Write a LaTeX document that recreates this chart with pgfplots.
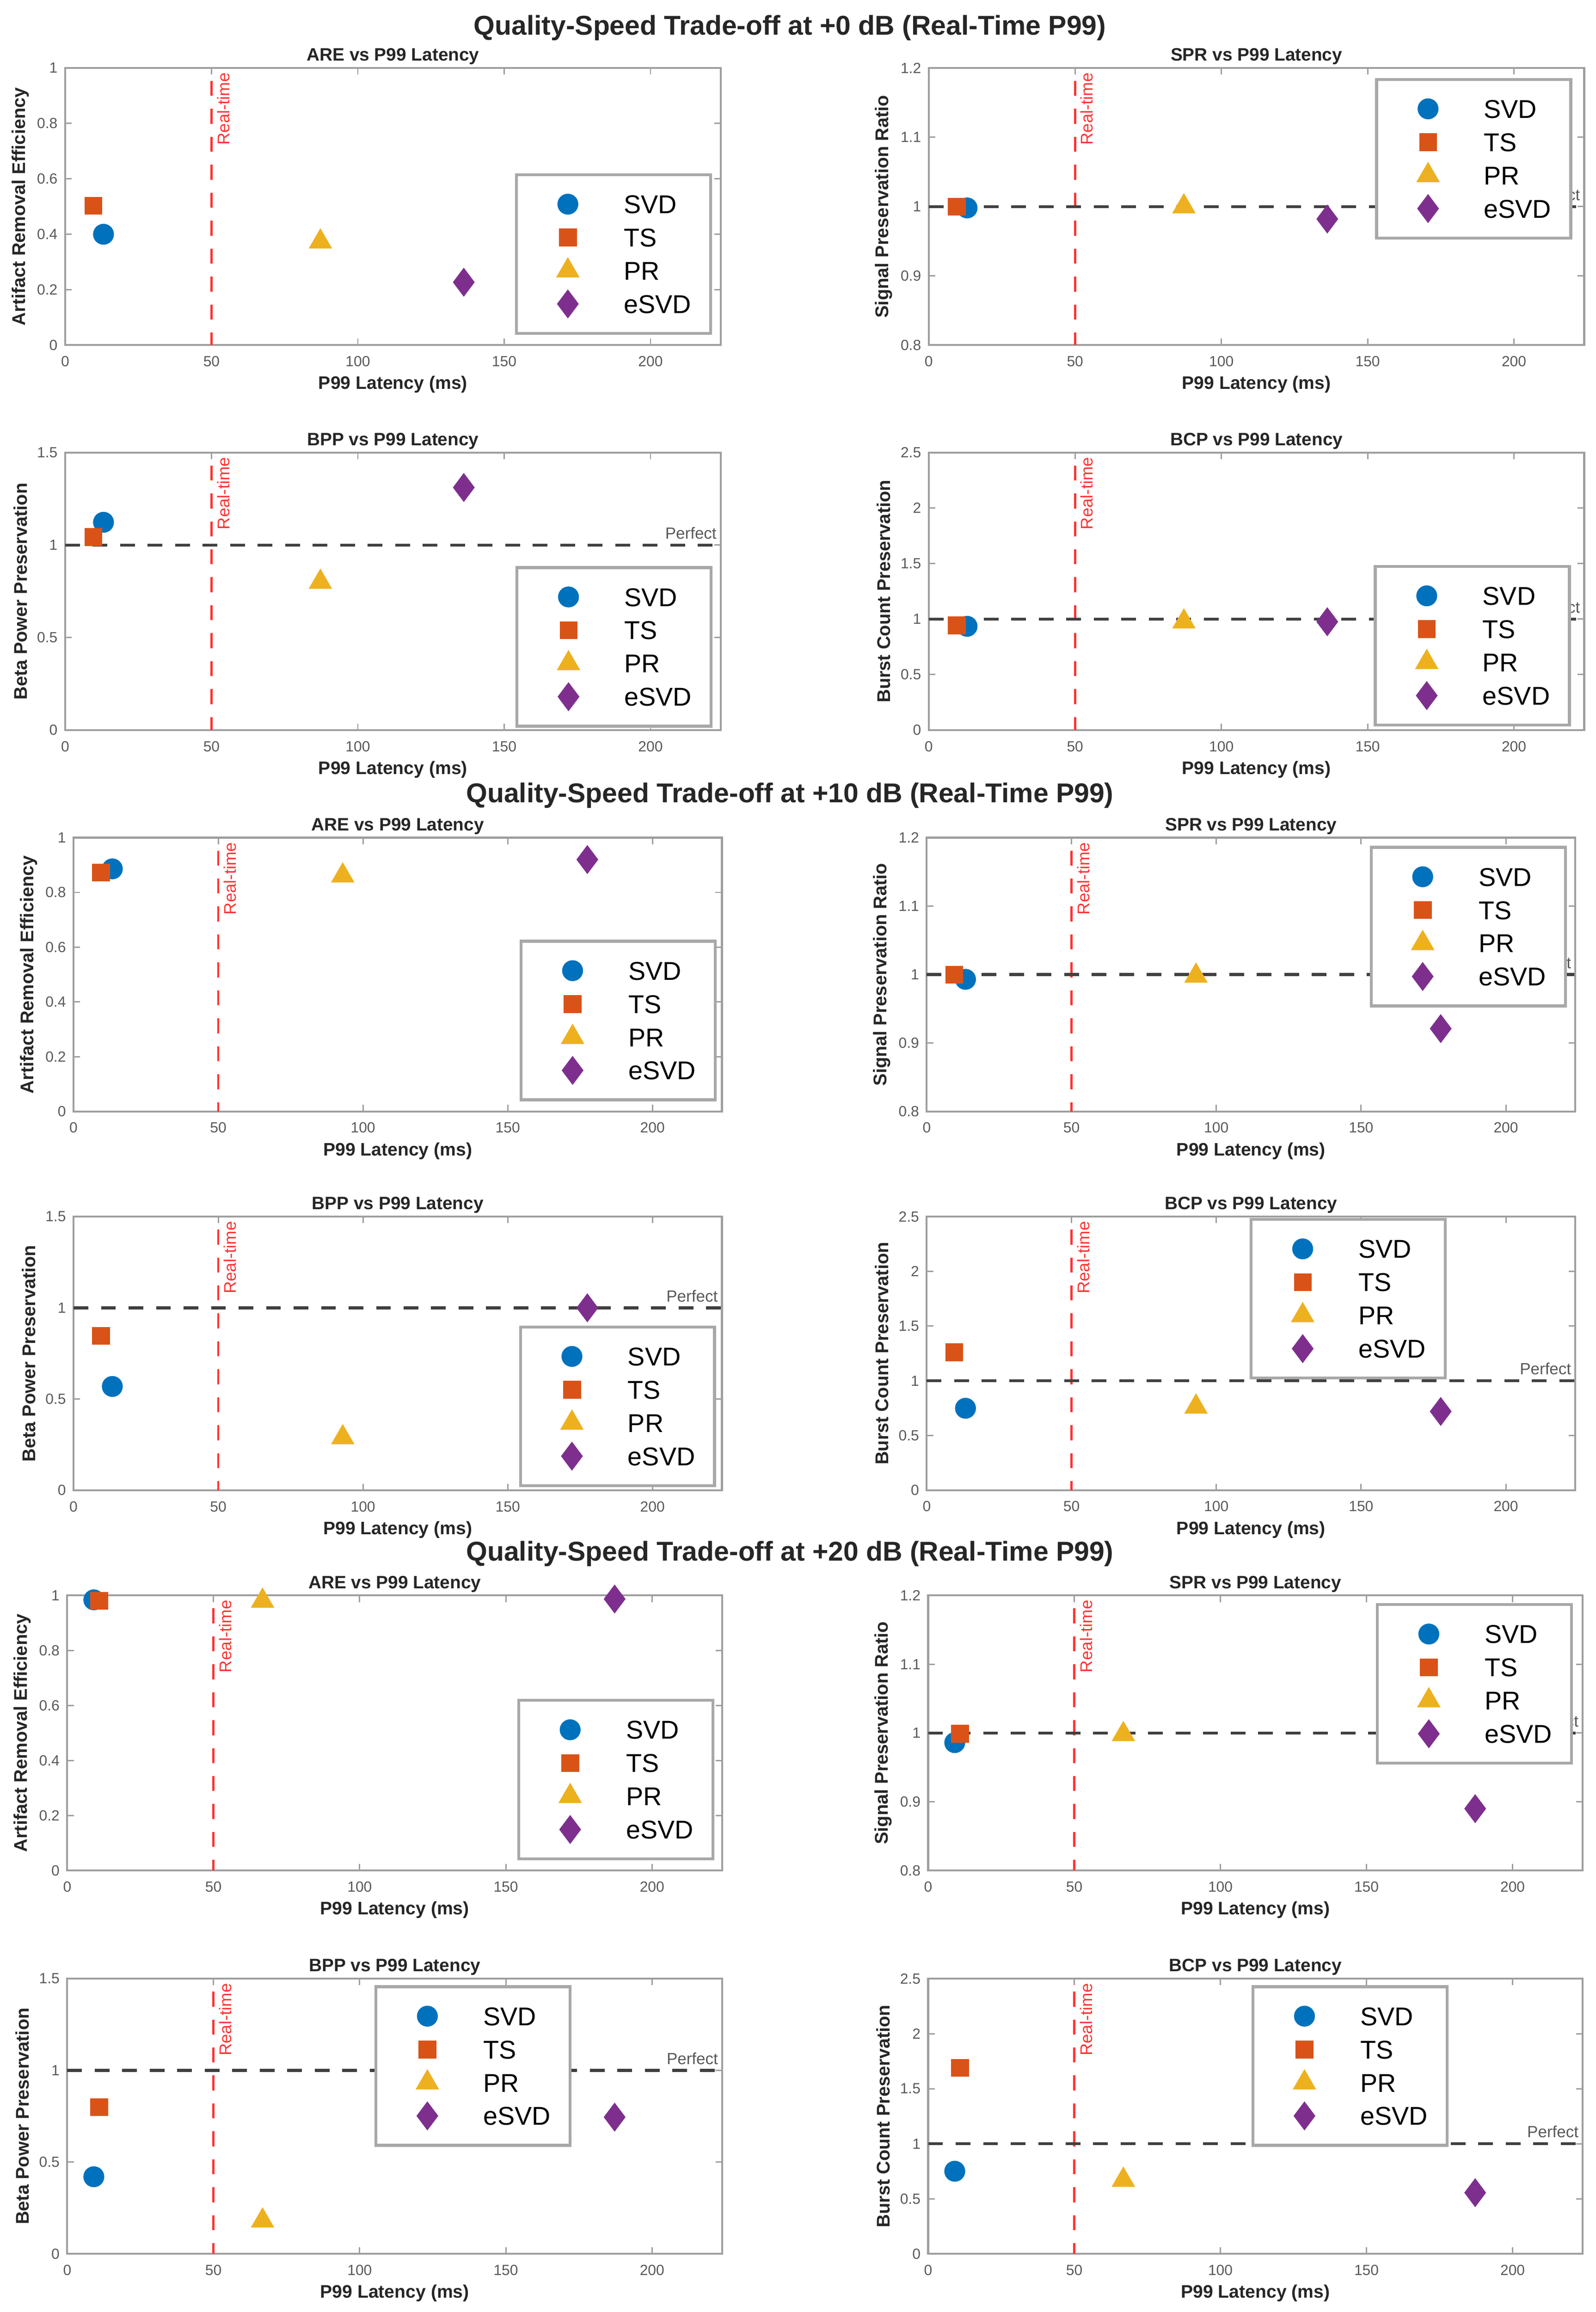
\documentclass[border=0pt]{standalone}
\usepackage{fontspec}
\setmainfont{Liberation Sans}
\usepackage{pgfplots}
\pgfplotsset{compat=1.18}
\definecolor{cSVD}{HTML}{0072BD}
\definecolor{cTS}{HTML}{D95319}
\definecolor{cPR}{HTML}{EDB120}
\definecolor{cES}{HTML}{7E2F8E}
\definecolor{axgray}{gray}{0.62}
\definecolor{tickgray}{gray}{0.35}
\definecolor{labgray}{gray}{0.15}
\definecolor{leggray}{gray}{0.66}
\definecolor{rtred}{rgb}{1,0.2,0.2}
\definecolor{perfc}{gray}{0.25}

\pgfplotsset{
  legimg/.style={legend image code/.code={\path[draw=none,fill=none] (-35pt,-10pt) rectangle (38pt,10pt); \draw[##1] plot coordinates {(0pt,0pt)};}},
  pSVD/.style={only marks, mark=*, mark size=7pt, color=cSVD, mark options={fill=cSVD, draw=cSVD, line width=0.2pt, solid}, legimg},
  pTS/.style={only marks, mark=square*, mark size=5.9pt, color=cTS, mark options={fill=cTS, draw=cTS, line width=0.2pt, solid}, legimg},
  pPR/.style={only marks, mark=triangle*, mark size=9pt, color=cPR, mark options={fill=cPR, draw=cPR, line width=0.2pt, solid}, legimg},
  pES/.style={only marks, mark=diamond*, mark size=9.7pt, color=cES, mark options={fill=cES, draw=cES, line width=0.2pt, solid}, legimg},
  rtline/.style={draw=rtred, line width=1.5pt, dash pattern=on 10.2pt off 8.8pt, dash phase=10.2pt, forget plot},
  perfline/.style={draw=perfc, line width=2pt, dash pattern=on 10pt off 8.7pt, forget plot},
  panel/.style={
    scale only axis, clip=false, anchor=north west,
    xmin=0, xmax=224, xtick={0,50,100,150,200},
    tick align=inside, tick pos=both, major tick length=4.5pt,
    axis line style={draw=axgray, line width=1.3pt},
    every tick/.style={draw=axgray, line width=0.9pt},
    /pgf/number format/assume math mode=true,
    tick label style={font=\fontsize{10}{12}\selectfont, text=tickgray},
    xticklabel style={anchor=base, inner sep=0pt, yshift=-14.5pt},
    yticklabel style={anchor=east, inner sep=0pt, xshift=-5pt},
    xlabel={P99 Latency (ms)},
    xlabel style={at={(axis description cs:0.5,0)}, anchor=base, yshift=-30pt, font=\bfseries\fontsize{12.3}{14}\selectfont, text=labgray},
    ylabel style={at={([xshift=-30.5pt]axis description cs:0,0.5)}, anchor=center, font=\bfseries\fontsize{12.5}{14}\selectfont, text=labgray},
    every axis title shift=0pt,
    title style={at={(axis description cs:0.5,1)}, anchor=base, yshift=4.8pt, font=\bfseries\fontsize{12.2}{14}\selectfont, text=labgray},
    legend cell align=left,
    legend style={draw=leggray, line width=2pt, fill=white, inner xsep=0pt, inner ysep=10pt, row sep=2.6pt, column sep=0pt, anchor=north west,
      nodes={inner sep=0pt, text height=12.6pt, text depth=0pt, text width=59pt, font=\fontsize{17.5}{20}\selectfont, text=black}},
  },
  are/.style={panel, ymin=0, ymax=1, ytick={0,0.2,0.4,0.6,0.8,1}, yticklabels={0,0.2,0.4,0.6,0.8,1}, ylabel={Artifact Removal Efficiency}, title={ARE vs P99 Latency}},
  spr/.style={panel, ymin=0.8, ymax=1.2, ytick={0.8,0.9,1,1.1,1.2}, yticklabels={0.8,0.9,1,1.1,1.2}, ylabel={Signal Preservation Ratio}, title={SPR vs P99 Latency}},
  bpp/.style={panel, ymin=0, ymax=1.5, ytick={0,0.5,1,1.5}, yticklabels={0,0.5,1,1.5}, ylabel={Beta Power Preservation}, title={BPP vs P99 Latency}},
  bcp/.style={panel, ymin=0, ymax=2.5, ytick={0,0.5,1,1.5,2,2.5}, yticklabels={0,0.5,1,1.5,2,2.5}, ylabel={Burst Count Preservation}, title={BCP vs P99 Latency}},
}

\newcommand{\rt}[2]{%
  \addplot[rtline] coordinates {(50,#2) (50,#1)};
  \node[rotate=90, anchor=north east, inner sep=0pt, text=rtred, font=\fontsize{11.5}{13}\selectfont] at ([xshift=3.6pt,yshift=-3pt]axis cs:50,#2) {Real-time};
}
\newcommand{\perf}{%
  \addplot[perfline] coordinates {(0,1) (224,1)};
  \node[anchor=base east, inner sep=0pt, text=tickgray, font=\fontsize{11}{13}\selectfont] at ([xshift=-2.7pt,yshift=4.2pt]axis cs:224,1) {Perfect};
}
\newcommand{\pts}[8]{%
  \addplot[pSVD] coordinates {(#1,#2)};
  \addplot[pTS] coordinates {(#3,#4)};
  \addplot[pPR] coordinates {(#5,#6)};
  \addplot[pES] coordinates {(#7,#8)};
}

\begin{document}
\begin{tikzpicture}
\useasboundingbox (0pt,0pt) rectangle (1085pt,-1571.6pt);

\node[anchor=base, font=\bfseries\fontsize{18.5}{21}\selectfont, text=labgray] at (537pt,-23.8pt) {Quality-Speed Trade-off at +0 dB (Real-Time P99)};
\node[anchor=base, font=\bfseries\fontsize{18.5}{21}\selectfont, text=labgray] at (537pt,-545.6pt) {Quality-Speed Trade-off at +10 dB (Real-Time P99)};
\node[anchor=base, font=\bfseries\fontsize{18.5}{21}\selectfont, text=labgray] at (537pt,-1061pt) {Quality-Speed Trade-off at +20 dB (Real-Time P99)};

% ---------- +0 dB ----------
\begin{axis}[are, at={(44.3pt,-46.2pt)}, width=445.7pt, height=188.4pt, legend style={at={(0.686,0.620)}}]
\pts{13.1}{0.40}{9.6}{0.503}{87.2}{0.373}{136.2}{0.227}
\rt{0}{1}
\legend{SVD,TS,PR,eSVD}
\end{axis}
\begin{axis}[spr, at={(631.4pt,-46.2pt)}, width=445.6pt, height=188.4pt, legend style={at={(0.681,0.964)}}]
\pts{13.1}{0.998}{9.6}{1.0}{87.2}{1.0}{136.2}{0.982}
\rt{0.8}{1.2}
\perf
\legend{SVD,TS,PR,eSVD}
\end{axis}
\begin{axis}[bpp, at={(44.3pt,-307.6pt)}, width=445.7pt, height=188.7pt, legend style={at={(0.687,0.591)}}]
\pts{13.1}{1.123}{9.6}{1.044}{87.2}{0.80}{136.2}{1.311}
\rt{0}{1.5}
\perf
\legend{SVD,TS,PR,eSVD}
\end{axis}
\begin{axis}[bcp, at={(631.4pt,-307.6pt)}, width=445.6pt, height=188.7pt, legend style={at={(0.679,0.595)}}]
\pts{13.1}{0.935}{9.6}{0.945}{87.2}{0.976}{136.2}{0.976}
\rt{0}{2.5}
\perf
\legend{SVD,TS,PR,eSVD}
\end{axis}

% ---------- +10 dB ----------
\begin{axis}[are, at={(50pt,-569.4pt)}, width=440.8pt, height=186.1pt, legend style={at={(0.688,0.627)}}]
\pts{13.4}{0.886}{9.5}{0.873}{93.0}{0.861}{177.5}{0.92}
\rt{0}{1}
\legend{SVD,TS,PR,eSVD}
\end{axis}
\begin{axis}[spr, at={(630pt,-569.4pt)}, width=441pt, height=186.1pt, legend style={at={(0.683,0.970)}}]
\pts{13.4}{0.993}{9.5}{1.0}{93.0}{0.998}{177.5}{0.921}
\rt{0.8}{1.2}
\perf
\legend{SVD,TS,PR,eSVD}
\end{axis}
\begin{axis}[bpp, at={(50pt,-827pt)}, width=440.8pt, height=186pt, legend style={at={(0.687,0.602)}}]
\pts{13.4}{0.569}{9.5}{0.847}{93.0}{0.289}{177.5}{1.0}
\rt{0}{1.5}
\perf
\legend{SVD,TS,PR,eSVD}
\end{axis}
\begin{axis}[bcp, at={(630pt,-827pt)}, width=441pt, height=186pt, legend style={at={(0.498,0.995)}}]
\pts{13.4}{0.749}{9.5}{1.262}{93.0}{0.762}{177.5}{0.72}
\rt{0}{2.5}
\perf
\legend{SVD,TS,PR,eSVD}
\end{axis}

% ---------- +20 dB ----------
\begin{axis}[are, at={(45.7pt,-1084.5pt)}, width=445.3pt, height=187pt, legend style={at={(0.687,0.624)}}]
\pts{9.1}{0.984}{10.9}{0.981}{66.8}{0.98}{187.2}{0.987}
\rt{0}{1}
\legend{SVD,TS,PR,eSVD}
\end{axis}
\begin{axis}[spr, at={(631pt,-1084.5pt)}, width=445pt, height=187pt, legend style={at={(0.684,0.972)}}]
\pts{9.1}{0.986}{10.9}{0.999}{66.8}{0.998}{187.2}{0.89}
\rt{0.8}{1.2}
\perf
\legend{SVD,TS,PR,eSVD}
\end{axis}
\begin{axis}[bpp, at={(45.7pt,-1345pt)}, width=445.3pt, height=187pt, legend style={at={(0.469,0.976)}}]
\pts{9.1}{0.42}{10.9}{0.80}{66.8}{0.18}{187.2}{0.745}
\rt{0}{1.5}
\perf
\legend{SVD,TS,PR,eSVD}
\end{axis}
\begin{axis}[bcp, at={(631pt,-1345pt)}, width=445pt, height=187pt, legend style={at={(0.494,0.976)}}]
\pts{9.1}{0.75}{10.9}{1.69}{66.8}{0.67}{187.2}{0.555}
\rt{0}{2.5}
\perf
\legend{SVD,TS,PR,eSVD}
\end{axis}
\end{tikzpicture}
\end{document}
